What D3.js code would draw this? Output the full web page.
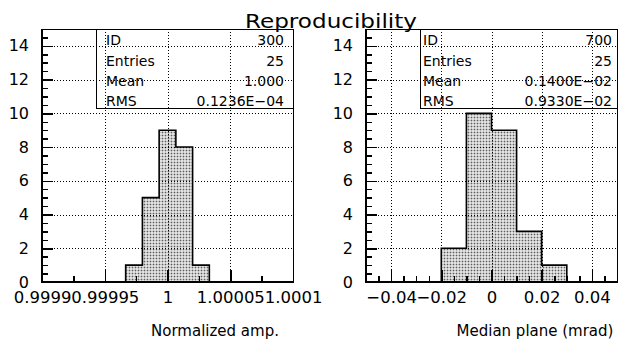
<!DOCTYPE html>
<html><head><meta charset="utf-8">
<script src="https://cdn.jsdelivr.net/npm/d3@7"></script>
<style>
html,body{margin:0;padding:0;background:#fff;}
svg{display:block;}
</style></head><body>
<svg id="chart" width="618" height="342"></svg>
<script>
// Histogram 300: normalized amplitude
const ampRange = [0.9999, 1.0001];
const ampBins = 15;
const ampCounts = [0, 0, 0, 0, 0, 1, 5, 9, 8, 1, 0, 0, 0, 0, 0];
const ampTicks = [0.9999, 0.99995, 1, 1.00005, 1.0001];
const ampTickLabels = ["0.9999", "0.99995", "1", "1.00005", "1.0001"];
const ampMinorTicks = [0.999925, 0.999975, 1.000025, 1.000075];
const ampStats = [["ID", "300"], ["Entries", "25"], ["Mean", "1.000"], ["RMS", "0.1236E\u221204"]];

// Histogram 700: median plane
const medRange = [-0.05, 0.05];
const medBins = 10;
const medCounts = [0, 0, 0, 2, 10, 9, 3, 1, 0, 0];
const medTicks = [-0.04, -0.02, 0, 0.02, 0.04];
const medTickLabels = ["\u22120.04", "\u22120.02", "0", "0.02", "0.04"];
const medMinorTicks = [-0.045, -0.035, -0.03, -0.025, -0.015, -0.01, -0.005,
                       0.005, 0.01, 0.015, 0.025, 0.03, 0.035, 0.045];
const medStats = [["ID", "700"], ["Entries", "25"], ["Mean", "0.1400E\u221202"], ["RMS", "0.9330E\u221202"]];

// Shared vertical axis
const yMax = 15;
const yTicks = [0, 2, 4, 6, 8, 10, 12, 14];
const yMinorTicks = [0.5, 1, 1.5, 2.5, 3, 3.5, 4.5, 5, 5.5, 6.5, 7, 7.5, 8.5, 9, 9.5,
                     10.5, 11, 11.5, 12.5, 13, 13.5, 14.5];

const titleText = "Reproducibility";
const xTitles = ["Normalized amp.", "Median plane (mrad)"];

const svg = d3.select("#chart");
const TEXT_FONT = "'DejaVu Sans', sans-serif";

// stippled fill for the histogram bars
const pat = svg.append("defs").append("pattern")
  .attr("id", "stipple").attr("width", 3).attr("height", 3)
  .attr("patternUnits", "userSpaceOnUse");
pat.append("rect").attr("width", 3).attr("height", 3).attr("fill", "#bcbcbc");
pat.append("rect").attr("width", 1).attr("height", 1).attr("fill", "#5e5e5e");
pat.append("rect").attr("x", 1).attr("y", 1).attr("width", 2).attr("height", 2).attr("fill", "#e2e2e2");

const panels = [
  { left: 42, right: 293, range: ampRange, bins: ampBins, counts: ampCounts,
    ticks: ampTicks, labels: ampTickLabels, minor: ampMinorTicks, stats: ampStats,
    box: { x: 96, w: 197, labelX: 106, valueX: 284 }, xTitle: xTitles[0], xTitleX: 215 },
  { left: 366, right: 617, range: medRange, bins: medBins, counts: medCounts,
    ticks: medTicks, labels: medTickLabels, minor: medMinorTicks, stats: medStats,
    box: { x: 420, w: 197, labelX: 423, valueX: 612 }, xTitle: xTitles[1], xTitleX: 535 }
];
const plotTop = 29, plotBottom = 282;

const y = d3.scaleLinear().domain([0, yMax]).range([plotBottom, plotTop]);

panels.forEach(p => {
  const g = svg.append("g");
  const x = d3.scaleLinear().domain(p.range).range([p.left, p.right]);
  const binW = (p.range[1] - p.range[0]) / p.bins;

  // step contour points: (bin low edge, count), closing at the last high edge
  const pts = [[p.range[0], 0]];
  p.counts.forEach((c, i) => pts.push([p.range[0] + i * binW, c]));
  pts.push([p.range[1], p.counts[p.counts.length - 1]]);
  pts.push([p.range[1], 0]);

  const area = d3.area().curve(d3.curveStepAfter)
    .x(d => x(d[0])).y0(y(0)).y1(d => y(d[1]));
  const line = d3.line().curve(d3.curveStepAfter)
    .x(d => x(d[0])).y(d => y(d[1]));

  g.append("path").datum(pts).attr("d", area)
    .attr("fill", "url(#stipple)").attr("stroke", "none");
  g.append("path").datum(pts).attr("d", line)
    .attr("fill", "none").attr("stroke", "#000").attr("stroke-width", 1.6);

  // dotted grid at major ticks
  const grid = g.append("g").attr("stroke", "#000").attr("stroke-width", 1)
    .attr("stroke-dasharray", "1,2").attr("shape-rendering", "crispEdges");
  p.ticks.filter(t => t > p.range[0] && t < p.range[1]).forEach(t => {
    grid.append("line").attr("x1", Math.round(x(t)) + 0.5).attr("x2", Math.round(x(t)) + 0.5)
      .attr("y1", plotTop).attr("y2", plotBottom);
  });
  yTicks.filter(t => t > 0 && t < yMax).forEach(t => {
    grid.append("line").attr("x1", p.left).attr("x2", p.right)
      .attr("y1", Math.round(y(t)) + 0.5).attr("y2", Math.round(y(t)) + 0.5);
  });

  // statistics box
  const bx = p.box;
  g.append("rect").attr("x", bx.x + 0.5).attr("y", plotTop + 0.5).attr("width", bx.w).attr("height", 79)
    .attr("fill", "none").attr("stroke", "#000").attr("stroke-width", 1);
  const rowBase = [45, 66, 86, 105.5];
  p.stats.forEach((s, i) => {
    g.append("text").attr("x", bx.labelX).attr("y", rowBase[i])
      .attr("font-family", TEXT_FONT).attr("font-size", 14).text(s[0]);
    g.append("text").attr("x", bx.valueX).attr("y", rowBase[i]).attr("text-anchor", "end")
      .attr("font-family", TEXT_FONT).attr("font-size", 14).text(s[1]);
  });

  // frame
  g.append("rect").attr("x", p.left + 0.5).attr("y", plotTop + 0.5)
    .attr("width", p.right - p.left).attr("height", plotBottom - plotTop)
    .attr("fill", "none").attr("stroke", "#000").attr("stroke-width", 1);
  g.append("line").attr("x1", p.left).attr("x2", p.left).attr("y1", plotTop).attr("y2", plotBottom + 1)
    .attr("stroke", "#000").attr("stroke-width", 2);
  g.append("line").attr("x1", p.left).attr("x2", p.right + 1).attr("y1", plotBottom).attr("y2", plotBottom)
    .attr("stroke", "#000").attr("stroke-width", 2);

  // x axis: minor then major ticks with labels
  const gxm = g.append("g").attr("transform", `translate(0,${plotBottom})`)
    .call(d3.axisBottom(x).tickValues(p.minor).tickSize(-6).tickFormat(""));
  gxm.select(".domain").remove();
  const gx = g.append("g").attr("transform", `translate(0,${plotBottom})`)
    .call(d3.axisBottom(x).tickValues(p.ticks).tickSize(-12).tickPadding(9)
      .tickFormat((d, i) => p.labels[i]));
  gx.select(".domain").remove();
  gx.attr("font-family", TEXT_FONT).attr("font-size", 16.5);

  // y axis
  const gym = g.append("g").attr("transform", `translate(${p.left},0)`)
    .call(d3.axisLeft(y).tickValues(yMinorTicks).tickSize(-5.5).tickFormat(""));
  gym.select(".domain").remove();
  const gy = g.append("g").attr("transform", `translate(${p.left},0)`)
    .call(d3.axisLeft(y).tickValues(yTicks).tickSize(-11).tickPadding(13).tickFormat(d3.format("d")));
  gy.select(".domain").remove();
  gy.attr("font-family", TEXT_FONT).attr("font-size", 16);

  g.selectAll(".tick line").attr("shape-rendering", "crispEdges").attr("stroke-width", 1.5);

  // axis title
  g.append("text").attr("x", p.xTitleX).attr("y", 336).attr("text-anchor", "middle")
    .attr("font-family", TEXT_FONT).attr("font-size", 15).text(p.xTitle);
});

svg.append("text").attr("x", 245).attr("y", 28)
  .attr("font-family", TEXT_FONT).attr("font-size", 19)
  .attr("textLength", 172).attr("lengthAdjust", "spacingAndGlyphs")
  .text(titleText);
</script>
</body></html>
